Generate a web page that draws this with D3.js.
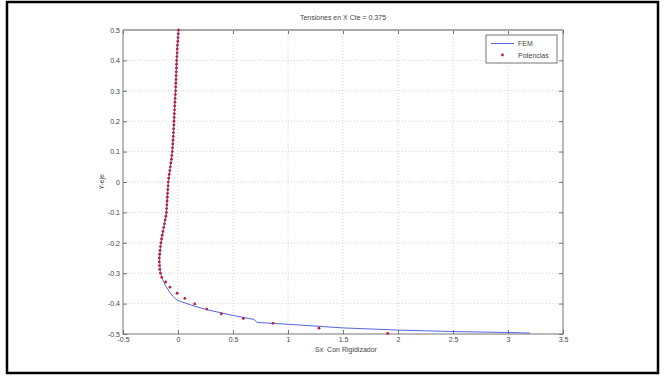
<!DOCTYPE html>
<html><head><meta charset="utf-8">
<script src="https://cdn.jsdelivr.net/npm/d3@7"></script>
<style>body{margin:0;background:#fff}svg{display:block}</style>
</head><body><svg id="c" width="665" height="376"></svg>
<script>
const chartTitle = "Tensiones en X Cte = 0.375";
const xLabel = "Sx\u00a0 Con Rigidizador";
const yLabel = "Y-eje";
const xTicks = [-0.5, 0, 0.5, 1, 1.5, 2, 2.5, 3, 3.5];
const xTickLabels = ["-0.5","0","0.5","1","1.5","2","2.5","3","3.5"];
const yTicks = [-0.5,-0.4,-0.3,-0.2,-0.1,0,0.1,0.2,0.3,0.4,0.5];
const yTickLabels = ["-0.5","-0.4","-0.3","-0.2","-0.1","0","0.1","0.2","0.3","0.4","0.5"];
const seriesNames = ["FEM", "Potencias"];

// FEM curve (Sx, Y)
const femY = [0.5,0.45,0.4,0.35,0.3,0.25,0.2,0.15,0.1,0.05,0.0,-0.05,-0.1,-0.15,-0.2,-0.25,-0.3,-0.32,-0.34,-0.36,-0.375,-0.385,-0.39,-0.405,-0.419,-0.439,-0.452,-0.462,-0.468,-0.48,-0.487,-0.492,-0.495,-0.497];
const femX = [0.005,-0.005,-0.012,-0.017,-0.022,-0.03,-0.036,-0.043,-0.052,-0.07,-0.088,-0.097,-0.105,-0.13,-0.155,-0.168,-0.16,-0.14,-0.115,-0.08,-0.05,-0.02,0.0,0.12,0.25,0.5,0.69,0.72,1.0,1.5,2.0,2.5,3.0,3.2];

// Potencias points (Sx, Y)
const potY = [0.5,0.4875,0.475,0.4625,0.45,0.4375,0.425,0.4125,0.4,0.3875,0.375,0.3625,0.35,0.3375,0.325,0.3125,0.3,0.2875,0.275,0.2625,0.25,0.2375,0.225,0.2125,0.2,0.1875,0.175,0.1625,0.15,0.1375,0.125,0.1125,0.1,0.0875,0.075,0.0625,0.05,0.0375,0.025,0.0125,0.0,-0.0125,-0.025,-0.0375,-0.05,-0.0625,-0.075,-0.0875,-0.1,-0.1125,-0.125,-0.1375,-0.15,-0.1625,-0.175,-0.1875,-0.2,-0.2125,-0.225,-0.2375,-0.25,-0.2625,-0.275,-0.2875,-0.3,-0.314,-0.329,-0.346,-0.366,-0.383,-0.401,-0.418,-0.434,-0.449,-0.465,-0.481,-0.498];
const potX = [0.005,0.003,0.0,-0.002,-0.005,-0.007,-0.008,-0.01,-0.012,-0.013,-0.014,-0.016,-0.017,-0.018,-0.02,-0.021,-0.022,-0.024,-0.026,-0.028,-0.03,-0.031,-0.033,-0.035,-0.036,-0.038,-0.04,-0.041,-0.043,-0.045,-0.047,-0.05,-0.052,-0.056,-0.06,-0.065,-0.07,-0.075,-0.08,-0.084,-0.088,-0.09,-0.093,-0.095,-0.097,-0.099,-0.101,-0.103,-0.105,-0.11,-0.117,-0.123,-0.13,-0.137,-0.143,-0.15,-0.155,-0.16,-0.164,-0.167,-0.17,-0.171,-0.169,-0.166,-0.16,-0.148,-0.112,-0.073,-0.008,0.062,0.152,0.261,0.394,0.594,0.864,1.282,1.906];

const svg = d3.select("#c");
const font = "'Liberation Sans', Arial, sans-serif";
const L = 123, R = 563, T = 30, B = 334;
const blue = "#5266e4", red = "#bb2040";
const x = d3.scaleLinear().domain([-0.5, 3.5]).range([L, R]);
const y = d3.scaleLinear().domain([-0.5, 0.5]).range([B, T]);

// outer frame
svg.append("rect").attr("x", 7).attr("y", 2).attr("width", 651).attr("height", 371)
  .attr("fill", "#fff").attr("stroke", "#000").attr("stroke-width", 2.5);

// plot background
svg.append("rect").attr("x", L).attr("y", T).attr("width", R - L).attr("height", B - T).attr("fill", "#fff");

// grid
const grid = svg.append("g").attr("stroke", "#c8c8c8").attr("stroke-width", 0.8).attr("stroke-dasharray", "1,2");
grid.selectAll(".gx").data(xTicks.slice(1, -1)).join("line")
  .attr("x1", d => x(d)).attr("x2", d => x(d)).attr("y1", T).attr("y2", B);
grid.selectAll(".gy").data(yTicks.slice(1, -1)).join("line")
  .attr("y1", d => y(d)).attr("y2", d => y(d)).attr("x1", L).attr("x2", R);

// axes
function styleAxis(g) {
  g.select(".domain").remove();
  g.selectAll(".tick line").attr("stroke", "#555").attr("stroke-width", 0.8);
  g.selectAll("text").attr("fill", "#444").attr("font-family", font).attr("font-size", 7);
}
svg.append("g").attr("transform", `translate(0,${B})`)
  .call(d3.axisBottom(x).tickValues(xTicks).tickFormat((d, i) => xTickLabels[i]).tickSize(-4).tickPadding(3))
  .call(styleAxis);
svg.append("g").attr("transform", `translate(0,${T})`)
  .call(d3.axisTop(x).tickValues(xTicks).tickFormat("").tickSize(-4))
  .call(styleAxis);
svg.append("g").attr("transform", `translate(${L},0)`)
  .call(d3.axisLeft(y).tickValues(yTicks).tickFormat((d, i) => yTickLabels[i]).tickSize(-4).tickPadding(3))
  .call(styleAxis);
svg.append("g").attr("transform", `translate(${R},0)`)
  .call(d3.axisRight(y).tickValues(yTicks).tickFormat("").tickSize(-4))
  .call(styleAxis);

// box
svg.append("rect").attr("x", L).attr("y", T).attr("width", R - L).attr("height", B - T)
  .attr("fill", "none").attr("stroke", "#666").attr("stroke-width", 0.9);
svg.append("line").attr("x1", L).attr("x2", R).attr("y1", T).attr("y2", T)
  .attr("stroke", "#aaa").attr("stroke-width", 2);

// FEM line
const fem = femX.map((d, i) => [d, femY[i]]);
svg.append("path").datum(fem)
  .attr("d", d3.line().x(d => x(d[0])).y(d => y(d[1])))
  .attr("fill", "none").attr("stroke", blue).attr("stroke-width", 1);

// Potencias dots
const pot = potX.map((d, i) => [d, potY[i]]);
svg.append("g").selectAll("circle").data(pot).join("circle")
  .attr("cx", d => x(d[0])).attr("cy", d => y(d[1])).attr("r", 1.4)
  .attr("fill", red);

// title and labels
svg.append("text").attr("x", (L + R) / 2).attr("y", 20).attr("text-anchor", "middle")
  .attr("font-family", font).attr("font-size", 7).attr("fill", "#444").text(chartTitle);
svg.append("text").attr("x", (L + R) / 2 + 3).attr("y", 352).attr("text-anchor", "middle")
  .attr("font-family", font).attr("font-size", 7).attr("fill", "#444").text(xLabel);
svg.append("text").attr("transform", `translate(104,${(T + B) / 2}) rotate(-90)`).attr("text-anchor", "middle")
  .attr("font-family", font).attr("font-size", 7).attr("fill", "#444").text(yLabel);

// legend
const lg = svg.append("g");
lg.append("rect").attr("x", 486).attr("y", 35).attr("width", 71).attr("height", 28)
  .attr("fill", "#fff").attr("stroke", "#555").attr("stroke-width", 0.8);
lg.append("line").attr("x1", 491).attr("x2", 514).attr("y1", 43.5).attr("y2", 43.5)
  .attr("stroke", blue).attr("stroke-width", 1);
lg.append("circle").attr("cx", 502.5).attr("cy", 55).attr("r", 1.4).attr("fill", red);
lg.selectAll("text").data(seriesNames).join("text")
  .attr("x", 518).attr("y", (d, i) => 46 + i * 11.5)
  .attr("font-family", font).attr("font-size", 7).attr("fill", "#444").text(d => d);
</script>
</body></html>
